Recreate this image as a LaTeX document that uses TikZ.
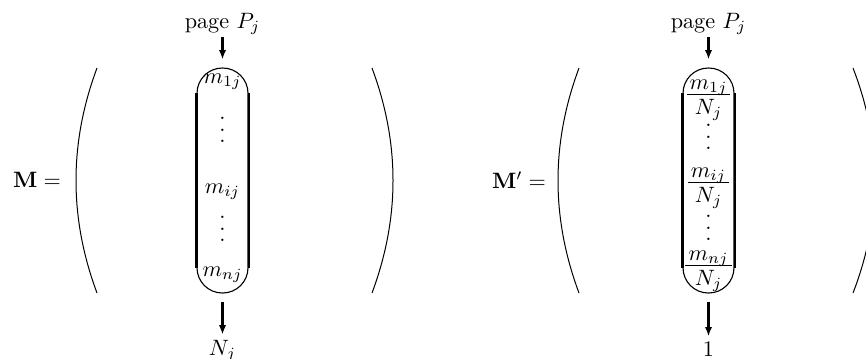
\documentclass[tikz,border=0pt]{standalone}
\usetikzlibrary{arrows.meta,calc}
\newcommand{\vdts}{\vbox{\baselineskip5.1pt\lineskiplimit0pt\hbox{.}\hbox{.}\hbox{.}}}
\newcommand{\stk}[2]{\vbox{\halign{\hfil\kern1.4pt##\kern1.4pt\hfil\cr
  \raisebox{0pt}[\height][1.6pt]{$#1$}\cr
  \noalign{\kern0.5pt\hrule height0.4pt\kern2pt}
  $#2$\cr}}}
\begin{document}
\begin{tikzpicture}[x=0.45pt,y=-0.45pt,
  capsule/.style={draw, line width=0.5pt, rounded corners=11.4pt, minimum width=22.95pt, minimum height=101.25pt, inner sep=0pt},
  side/.style={line width=0.95pt},
  paren/.style={line width=0.45pt},
  arr/.style={line width=0.95pt, -{Latex[length=4.2pt,width=3.3pt]}},
  lbl/.style={inner sep=0pt},
  entry/.style={inner sep=0pt}]
\useasboundingbox (0,0) rectangle (866,358);

% ---------- left matrix M ----------
\node[lbl] (M) at (37,180) {$\mathbf{M}=$};
\draw[paren] (97,68) .. controls (69,143) and (69,218) .. (97,293);
\draw[paren] (372,68) .. controls (400,143) and (400,218) .. (372,293);

\node[capsule] (c1) at (222.5,180.5) {};
\draw[side] ($(c1.north west)+(0,25.5)$) -- ($(c1.south west)+(0,-25.5)$);
\draw[side] ($(c1.north east)+(0,25.5)$) -- ($(c1.south east)+(0,-25.5)$);

\node[entry] (a1) at (222.5,82) {$m_{1j}$};
\node[entry] (a2) at (222.5,130) {\vdts};
\node[entry] (a3) at (222.5,192) {$m_{ij}$};
\node[entry] (a4) at (222.5,229) {\vdts};
\node[entry] (a5) at (222.5,275) {$m_{nj}$};

\node[lbl, anchor=base] (p1) at (222.5,28) {page $P_j$};
\node[lbl, anchor=base] (n1) at (222.5,355) {$N_j$};
\draw[arr, shorten <=1.2pt, shorten >=3.6pt] (p1) -- (c1);
\draw[arr, shorten <=3.6pt, shorten >=2.2pt] (c1) -- (n1);

% ---------- right matrix M' ----------
\node[lbl] (M2) at (519,180) {$\mathbf{M}'=$};
\draw[paren] (579,68) .. controls (551,143) and (551,218) .. (579,293);
\draw[paren] (853,68) .. controls (882,143) and (882,218) .. (853,293);

\node[capsule] (c2) at (708.5,180.5) {};
\draw[side] ($(c2.north west)+(0,25.5)$) -- ($(c2.south west)+(0,-25.5)$);
\draw[side] ($(c2.north east)+(0,25.5)$) -- ($(c2.south east)+(0,-25.5)$);

\node[entry] (b1) at (708.5,100) {\stk{m_{1j}}{N_j}};
\node[entry] (b2) at (708.5,137) {\vdts};
\node[entry] (b3) at (708.5,188) {\stk{m_{ij}}{N_j}};
\node[entry] (b4) at (708.5,228) {\vdts};
\node[entry] (b5) at (708.5,271) {\stk{m_{nj}}{N_j}};

\node[lbl, anchor=base] (p2) at (708.5,28) {page $P_j$};
\node[lbl, anchor=base] (n2) at (708.5,356) {$1$};
\draw[arr, shorten <=1.2pt, shorten >=3.6pt] (p2) -- (c2);
\draw[arr, shorten <=3.6pt, shorten >=2.2pt] (c2) -- (n2);
\end{tikzpicture}
\end{document}
